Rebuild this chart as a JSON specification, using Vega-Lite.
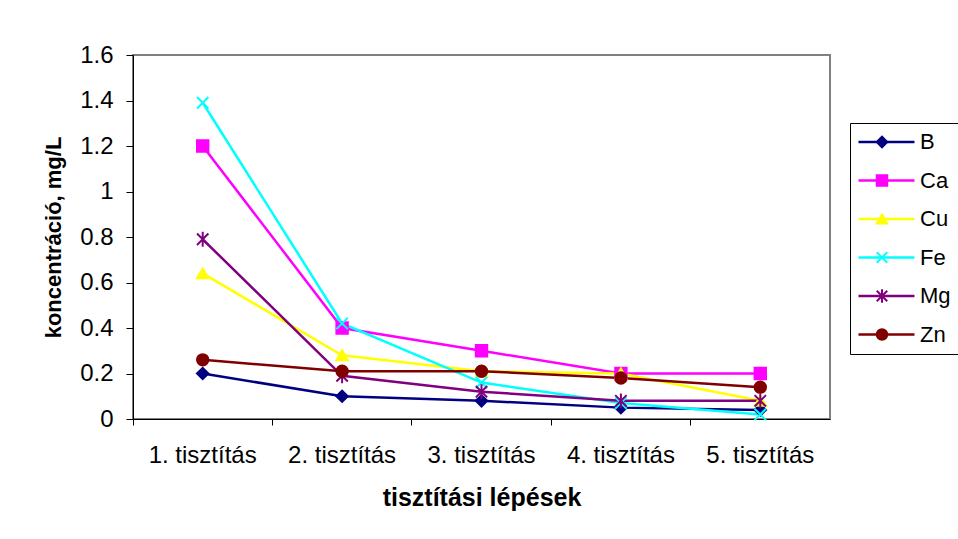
{
  "$schema": "https://vega.github.io/schema/vega-lite/v6.json",
  "width": 697,
  "height": 364,
  "autosize": {"type": "none"},
  "padding": {"left": 133, "top": 55, "right": 128, "bottom": 120},
  "background": "white",
  "config": {
    "font": "Liberation Sans",
    "view": {"stroke": "#808080", "strokeWidth": 2},
    "axis": {
      "labelFont": "Liberation Sans",
      "titleFont": "Liberation Sans",
      "labelColor": "black",
      "titleColor": "black",
      "domainColor": "black",
      "tickColor": "black",
      "grid": false
    }
  },
  "data": {
    "values": [
      {"step": "1. tisztítás", "el": "B", "v": 0.2},
      {"step": "2. tisztítás", "el": "B", "v": 0.1},
      {"step": "3. tisztítás", "el": "B", "v": 0.08},
      {"step": "4. tisztítás", "el": "B", "v": 0.05},
      {"step": "5. tisztítás", "el": "B", "v": 0.04},
      {"step": "1. tisztítás", "el": "Ca", "v": 1.2},
      {"step": "2. tisztítás", "el": "Ca", "v": 0.4},
      {"step": "3. tisztítás", "el": "Ca", "v": 0.3},
      {"step": "4. tisztítás", "el": "Ca", "v": 0.2},
      {"step": "5. tisztítás", "el": "Ca", "v": 0.2},
      {"step": "1. tisztítás", "el": "Cu", "v": 0.64},
      {"step": "2. tisztítás", "el": "Cu", "v": 0.28},
      {"step": "3. tisztítás", "el": "Cu", "v": 0.21},
      {"step": "4. tisztítás", "el": "Cu", "v": 0.2},
      {"step": "5. tisztítás", "el": "Cu", "v": 0.08},
      {"step": "1. tisztítás", "el": "Fe", "v": 1.39},
      {"step": "2. tisztítás", "el": "Fe", "v": 0.42},
      {"step": "3. tisztítás", "el": "Fe", "v": 0.16},
      {"step": "4. tisztítás", "el": "Fe", "v": 0.07},
      {"step": "5. tisztítás", "el": "Fe", "v": 0.02},
      {"step": "1. tisztítás", "el": "Mg", "v": 0.79},
      {"step": "2. tisztítás", "el": "Mg", "v": 0.19},
      {"step": "3. tisztítás", "el": "Mg", "v": 0.12},
      {"step": "4. tisztítás", "el": "Mg", "v": 0.08},
      {"step": "5. tisztítás", "el": "Mg", "v": 0.08},
      {"step": "1. tisztítás", "el": "Zn", "v": 0.26},
      {"step": "2. tisztítás", "el": "Zn", "v": 0.21},
      {"step": "3. tisztítás", "el": "Zn", "v": 0.21},
      {"step": "4. tisztítás", "el": "Zn", "v": 0.18},
      {"step": "5. tisztítás", "el": "Zn", "v": 0.14}
    ]
  },
  "layer": [
    {
      "mark": {"type": "line", "strokeWidth": 2.5},
      "encoding": {
        "x": {
          "field": "step",
          "type": "ordinal",
          "scale": {"type": "band", "paddingInner": 0, "paddingOuter": 0},
          "axis": {
            "title": "tisztítási lépések",
            "labelAngle": 0,
            "labelFontSize": 24,
            "titleFontSize": 25,
            "titleFontWeight": "bold",
            "tickSize": 6,
            "labelPadding": 18,
            "titlePadding": 18,
            "bandPosition": 0
          }
        },
        "y": {
          "field": "v",
          "type": "quantitative",
          "scale": {"domain": [0, 1.6]},
          "axis": {
            "title": "koncentráció, mg/L",
            "values": [0, 0.2, 0.4, 0.6, 0.8, 1, 1.2, 1.4, 1.6],
            "format": ".1~f",
            "labelFontSize": 24,
            "titleFontSize": 22,
            "titleFontWeight": "bold",
            "tickSize": 7,
            "labelPadding": 13,
            "titlePadding": 14
          }
        },
        "color": {
          "field": "el",
          "type": "nominal",
          "scale": {
            "domain": ["B", "Ca", "Cu", "Fe", "Mg", "Zn"],
            "range": ["#000080", "#FF00FF", "#FFFF00", "#00FFFF", "#800080", "#800000"]
          },
          "legend": {
            "orient": "none",
            "legendX": 717,
            "legendY": 68,
            "title": null,
            "symbolType": "stroke",
            "symbolSize": 3136,
            "symbolStrokeWidth": 2.5,
            "labelFontSize": 22,
            "labelFont": "Liberation Sans",
            "labelColor": "black",
            "labelOffset": 4,
            "strokeColor": "black",
            "fillColor": "white",
            "padding": 7,
            "clipHeight": 24,
            "rowPadding": 14.5
          }
        }
      }
    },
    {
      "mark": {"type": "point", "filled": true, "size": 130, "strokeWidth": 2, "opacity": 1},
      "encoding": {
        "x": {"field": "step", "type": "ordinal"},
        "y": {"field": "v", "type": "quantitative"},
        "shape": {
          "field": "el",
          "type": "nominal",
          "scale": {
            "range": ["diamond", "square", "triangle-up", "M-1,-1L1,1M-1,1L1,-1", "M-1,-1L1,1M-1,1L1,-1M0,-1.3L0,1.3", "circle"]
          },
          "legend": {
            "orient": "none",
            "legendX": 731,
            "legendY": 68,
            "title": null,
            "symbolSize": 110,
            "symbolStrokeWidth": 2,
            "symbolOpacity": 1,
            "labelFontSize": 22,
            "labelExpr": "''",
            "padding": 7,
            "clipHeight": 24,
            "rowPadding": 14.5
          }
        },
        "fill": {
          "field": "el",
          "type": "nominal",
          "scale": {
            "range": ["#000080", "#FF00FF", "#FFFF00", "#00FFFF", "#800080", "#800000"]
          },
          "legend": {
            "orient": "none",
            "legendX": 731,
            "legendY": 68,
            "title": null,
            "symbolSize": 110,
            "symbolStrokeWidth": 2,
            "symbolOpacity": 1,
            "labelFontSize": 22,
            "labelExpr": "''",
            "padding": 7,
            "clipHeight": 24,
            "rowPadding": 14.5
          }
        },
        "stroke": {
          "field": "el",
          "type": "nominal",
          "scale": {
            "range": ["#000080", "#FF00FF", "#FFFF00", "#00FFFF", "#800080", "#800000"]
          },
          "legend": {
            "orient": "none",
            "legendX": 731,
            "legendY": 68,
            "title": null,
            "symbolSize": 110,
            "symbolStrokeWidth": 2,
            "symbolOpacity": 1,
            "labelFontSize": 22,
            "labelExpr": "''",
            "padding": 7,
            "clipHeight": 24,
            "rowPadding": 14.5
          }
        }
      }
    }
  ]
}
